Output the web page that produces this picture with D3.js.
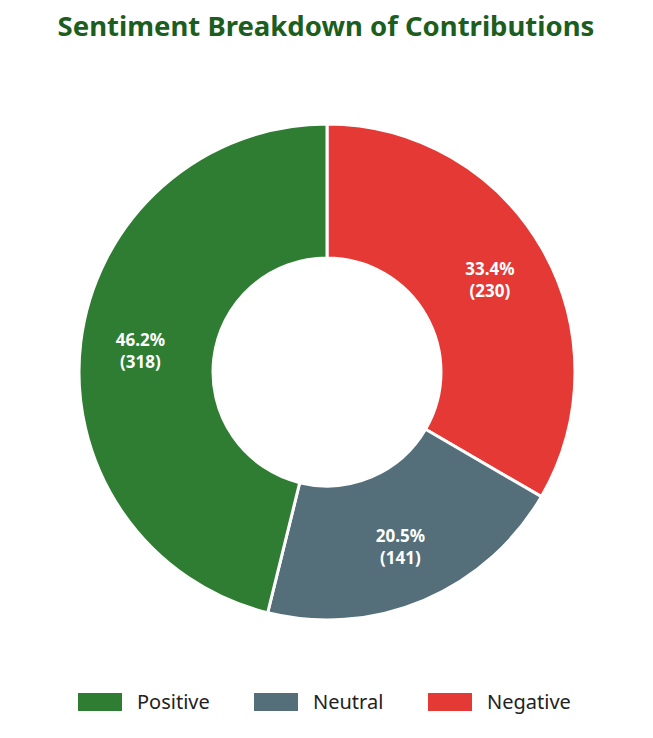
<!DOCTYPE html>
<html><head><meta charset="utf-8">
<script src="https://cdn.jsdelivr.net/npm/d3@7"></script>
<style>body{margin:0;background:#fff;font-family:"Noto Sans",sans-serif;}</style>
</head><body>
<svg id="chart" width="653" height="738"></svg>
<script>
const categories = ["Negative", "Neutral", "Positive"];
const counts = [230, 141, 318];
const colors = ["#e53935", "#546e7a", "#2e7d32"];
const legendOrder = ["Positive", "Neutral", "Negative"];

const svg = d3.select("#chart");
const cx = 327, cy = 372, outerR = 248, innerR = 114, labelR = 188;
const total = d3.sum(counts);
const color = d3.scaleOrdinal().domain(categories).range(colors);

svg.append("text")
  .attr("x", 326).attr("y", 36)
  .attr("text-anchor", "middle")
  .attr("font-size", "27.5px").attr("font-weight", "bold")
  .attr("fill", "#1b5e20")
  .text("Sentiment Breakdown of Contributions");

const pie = d3.pie().sort(null).value(d => d.value);
const arcs = pie(categories.map((c, i) => ({ name: c, value: counts[i] })));
const arc = d3.arc().innerRadius(innerR).outerRadius(outerR);
const labelArc = d3.arc().innerRadius(labelR).outerRadius(labelR);

const g = svg.append("g").attr("transform", `translate(${cx},${cy})`);
g.selectAll("path").data(arcs).join("path")
  .attr("d", arc)
  .attr("fill", d => color(d.data.name))
  .attr("stroke", "#fff").attr("stroke-width", 3);

// two separate lines per label
const lbl = g.selectAll("g.lbl").data(arcs).join("g")
  .attr("class", "lbl")
  .attr("transform", d => `translate(${labelArc.centroid(d)})`);
lbl.append("text").attr("y", -3)
  .attr("text-anchor", "middle")
  .attr("font-size", "17px").attr("font-weight", "bold").attr("fill", "#fff")
  .text(d => (d.data.value / total * 100).toFixed(1) + "%");
lbl.append("text").attr("y", 19)
  .attr("text-anchor", "middle")
  .attr("font-size", "17px").attr("font-weight", "bold").attr("fill", "#fff")
  .text(d => `(${d.data.value})`);

// legend
const legendX = [78, 254, 428];
const legend = svg.selectAll("g.leg").data(legendOrder).join("g")
  .attr("class", "leg")
  .attr("transform", (d, i) => `translate(${legendX[i]},693)`);
legend.append("rect").attr("width", 44).attr("height", 18)
  .attr("fill", d => color(d));
legend.append("text").attr("x", 59).attr("y", 16)
  .attr("font-size", "20px").attr("fill", "#222")
  .text(d => d);
</script>
</body></html>
